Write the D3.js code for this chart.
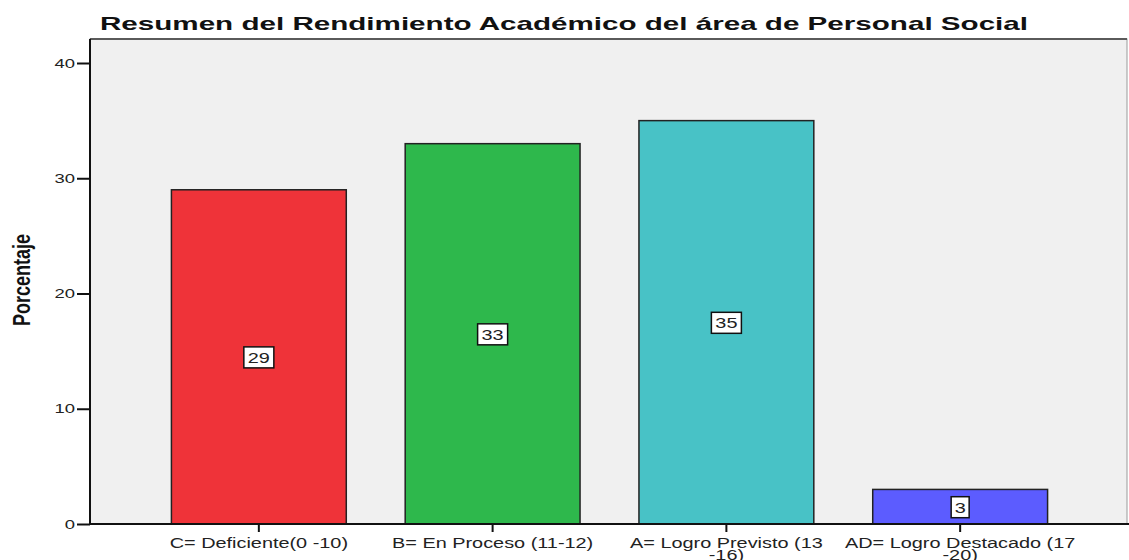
<!DOCTYPE html>
<html>
<head>
<meta charset="utf-8">
<script src="https://cdn.jsdelivr.net/npm/d3@7"></script>
<style>
  body { margin: 0; background: #fff; }
  svg { display: block; }
</style>
</head>
<body>
<svg width="1129" height="560"></svg>
<script>
const categories = ["C= Deficiente(0 -10)", "B= En Proceso (11-12)", "A= Logro Previsto (13 -16)", "AD= Logro Destacado (17 -20)"]
const labelLines = [["C= Deficiente(0 -10)"], ["B= En Proceso (11-12)"], ["A= Logro Previsto (13", "-16)"], ["AD= Logro Destacado (17", "-20)"]]
const values = [29, 33, 35, 3]
const colors = ["#EF3339", "#2EB84C", "#48C2C6", "#5C5CFF"]
const yTicks = [0, 10, 20, 30, 40]

const svg = d3.select("svg")
const plotLeft = 90, plotRight = 1127, plotTop = 39, plotBottom = 524
const sx = 1.42   // the original picture is stretched sideways

const yScale = d3.scaleLinear().domain([0, 40]).range([plotBottom, 63])
const xScale = d3.scaleBand().domain(categories).range([plotLeft + 1, plotRight + 1])
                 .paddingInner(0.252).paddingOuter(0.344)

// plot background
svg.append("rect")
   .attr("x", plotLeft).attr("y", plotTop)
   .attr("width", plotRight - plotLeft).attr("height", plotBottom - plotTop)
   .attr("fill", "#f0f0f0")
   .attr("stroke", "#9a9a9a").attr("stroke-width", 1)
svg.append("line").attr("x1", plotLeft).attr("x2", plotRight).attr("y1", plotTop).attr("y2", plotTop)
   .attr("stroke", "#5a5a5a").attr("stroke-width", 2)

// title
svg.append("text")
   .attr("x", 564).attr("y", 30)
   .attr("text-anchor", "middle")
   .attr("font-family", "Liberation Sans, Arial, sans-serif")
   .attr("font-weight", "bold").attr("font-size", 19)
   .attr("textLength", 928).attr("lengthAdjust", "spacingAndGlyphs")
   .attr("fill", "#111")
   .text("Resumen del Rendimiento Académico del área de Personal Social")

// bars
svg.selectAll(".bar")
   .data(values)
   .enter()
   .append("rect")
   .classed("bar", true)
   .attr("x", (d, i) => xScale(categories[i]))
   .attr("width", xScale.bandwidth())
   .attr("y", d => yScale(d))
   .attr("height", d => plotBottom - yScale(d))
   .attr("fill", (d, i) => colors[i])
   .attr("stroke", "#222").attr("stroke-width", 1.5)

// y axis
const yAxis = svg.append("g")
   .attr("transform", `translate(${plotLeft},0)`)
   .call(d3.axisLeft(yScale).tickValues(yTicks).tickSize(13).tickPadding(2))
yAxis.select(".domain").remove()
yAxis.append("line").attr("x1", 0).attr("x2", 0).attr("y1", plotTop).attr("y2", plotBottom + 1)
     .attr("stroke", "#111").attr("stroke-width", 2)
yAxis.selectAll(".tick line").attr("stroke", "#111").attr("stroke-width", 2)
yAxis.selectAll(".tick text")
     .attr("font-family", "Liberation Sans, Arial, sans-serif")
     .attr("font-size", 13).attr("fill", "#222")
     .attr("x", -15 / sx)
     .attr("transform", `scale(${sx},1)`)

// x axis
const xAxis = svg.append("g")
   .attr("transform", `translate(0,${plotBottom})`)
   .call(d3.axisBottom(xScale).tickSize(8).tickFormat(""))
xAxis.select(".domain").remove()
xAxis.append("line").attr("x1", plotLeft).attr("x2", 1129).attr("y1", 0).attr("y2", 0)
     .attr("stroke", "#111").attr("stroke-width", 2)
xAxis.selectAll(".tick line").attr("stroke", "#111").attr("stroke-width", 2)

const xLabels = svg.selectAll(".xlabel")
   .data(categories)
   .enter()
   .append("text")
   .classed("xlabel", true)
   .attr("transform", d => `translate(${xScale(d) + xScale.bandwidth() / 2},548) scale(${sx},1)`)
   .attr("text-anchor", "middle")
   .attr("font-family", "Liberation Sans, Arial, sans-serif")
   .attr("font-size", 14).attr("fill", "#222")
xLabels.each(function(d, i) {
  const t = d3.select(this)
  labelLines[i].forEach((line, j) => {
    t.append("tspan")
     .attr("x", 0)
     .attr("dy", j === 0 ? 0 : 12)
     .text(line)
  })
})

// y title
svg.append("text")
   .attr("transform", `translate(30,280) scale(1.3,1) rotate(-90)`)
   .attr("text-anchor", "middle")
   .attr("font-family", "Liberation Sans, Arial, sans-serif")
   .attr("font-weight", "bold").attr("font-size", 18)
   .attr("fill", "#111")
   .text("Porcentaje")

// value labels
const vl = svg.selectAll(".vlabel")
   .data(values)
   .enter()
   .append("g")
   .classed("vlabel", true)
   .attr("transform", (d, i) => `translate(${xScale(categories[i]) + xScale.bandwidth() / 2},${(yScale(d) + plotBottom) / 2})`)
vl.append("rect")
  .attr("x", d => String(d).length > 1 ? -15 : -9)
  .attr("width", d => String(d).length > 1 ? 30 : 18)
  .attr("y", -10).attr("height", 21)
  .attr("fill", "#fff").attr("stroke", "#111").attr("stroke-width", 1.5)
vl.append("text")
  .attr("text-anchor", "middle").attr("y", 6)
  .attr("transform", `scale(${sx},1)`)
  .attr("font-family", "Liberation Sans, Arial, sans-serif")
  .attr("font-size", 14).attr("fill", "#222")
  .text(d => d)
</script>
</body>
</html>
